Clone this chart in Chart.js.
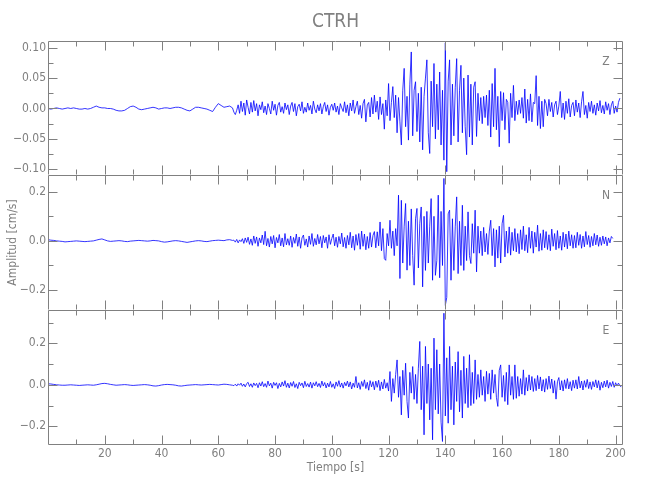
<!DOCTYPE html>
<html>
<head>
<meta charset="utf-8">
<title>CTRH</title>
<script src="https://cdn.jsdelivr.net/npm/chart.js@4.4.1/dist/chart.umd.min.js"></script>
<style>
  body { margin: 0; background: #fff; }
  #wrap { position: relative; width: 650px; height: 500px; }
  canvas { position: absolute; left: 0; }
</style>
</head>
<body>
<div id="wrap">
  <canvas id="chartZ" width="650" height="175" style="top:0"></canvas>
  <canvas id="chartN" width="650" height="135" style="top:175px"></canvas>
  <canvas id="chartE" width="650" height="190" style="top:310px"></canvas>
</div>
<script>
// sample times: 1 s steps up to 65 s, then 0.5 s steps
const time = [];
for (let t = 0; t <= 65; t += 1) time.push(t);
for (let t = 65.5; t <= 202; t += 0.5) time.push(t);

// amplitudes in 10^-3 cm/s
const ampZ = [
  0,-1,0,1,0,-1,0,1,0,1, 0,-1,-1,0,-1,0,2,4,2,1, 1,0,0,-1,-3,-4,-4,-3,0,3,
  4,2,-1,-2,-1,0,1,2,1,-1, 0,1,1,0,1,2,2,1,-1,-3, -4,-1,2,2,1,0,-1,-3,-5,2,
  8,5,2,3,4,1,
  -6,-10,-3,6,-8,12,-5,9,-11,14, 2,-9,10,-6,13,-4,8,-12,6,-2,
  11,-7,4,-10,8,0,-9,12,-3,7, -11,5,10,-6,3,-8,9,-2,6,-10,
  4,10,-5,8,-12,3,7,-4,11,-8, 2,-6,9,-3,5,-9,12,-1,-7,6,
  -4,8,-9,3,10,-5,6,-11,2,7, -3,9,-6,4,-10,8,1,-5,11,-7,
  6,-12,9,-4,14,-8,3,12,-10,5, -16,8,15,-22,6,10,-14,18,-9,22,
  -6,12,-18,19,-10,8,-34,14,-12,41, -20,10,36,-15,22,-40,18,-22,-60,30,
  66,-30,20,-52,40,93,-45,30,44,-38, 25,-55,35,-68,20,50,80,-40,-74,45,
  -30,74,-50,40,-35,60,-60,30,-85,108, -104,45,80,-60,40,-45,35,82,-55,30,
  71,-40,50,-30,-76,55,-47,40,-60,35, 44,-46,25,-20,18,-25,20,-15,22,-28,
  30,-47,41,-30,66,-35,20,-63,28,-20, 26,-35,15,10,-57,25,-15,38,-20,12,
  -10,14,-8,18,-16,32,-24,15,-20,24, -22,10,8,54,-28,20,-33,12,-30,15,
  8,-12,15,-5,10,-14,6,12,-10,4, 28,-15,9,-18,12,-8,16,-14,5,10,
  -12,14,-6,9,-15,11,28,-10,5,-16, 10,-5,12,-8,6,-11,9,-4,13,-7,
  5,-9,11,-3,8,-10,6,12,-8,4,-6,10,17
];
const ampN = [
  5,3,2,0,-1,-2,-4,-3,-2,-1, 0,-1,-2,-3,-2,-1,0,3,6,8, 4,0,-2,-1,0,1,0,-2,-3,-1,
  0,1,2,1,0,-1,0,2,1,0, -3,-5,-4,-2,0,1,0,-2,-4,-6, -4,-2,0,1,0,-2,-3,-1,1,2,
  3,2,1,4,5,2,
  3,-5,6,-8,4,-3,9,-10,12,-6, 15,-14,8,-18,20,-10,16,-22,12,-8,
  24,-15,39,-20,10,-25,18,-12,22,-28, 14,-8,26,-20,12,-24,30,-16,9,-18,
  20,-26,14,-10,28,-22,16,-30,12,24, -18,8,-25,20,-14,30,-22,10,-16,26,
  -12,18,-28,22,-8,16,-30,25,-14,10, 28,-20,15,-26,18,-12,32,-24,14,-30,
  22,-16,35,-28,20,-38,26,-18,30,-34, 40,-22,28,-36,18,-30,34,-25,22,38,
  -28,37,-20,77,-40,50,-72,-79,30,-20, 84,-30,40,-60,50,-20,186,-153,165,-90,
  60,152,-119,80,-100,130,-60,-180,90,132, -110,70,138,-187,100,-120,120,-90,60,172,
  -160,100,-140,-80,186,-150,120,-100,254,-262, -230,110,125,-160,90,-120,60,179,-133,80,
  -100,145,-120,60,-80,118,-60,-92,70,-50, 125,-126,60,-50,40,-60,55,-45,30,-55,
  40,84,-60,50,-106,45,-70,60,-90,70, 104,-65,40,-50,57,-58,35,-40,50,-45,
  30,-52,45,-35,60,-40,25,-48,55,-30, 40,-50,35,-25,64,-42,30,-38,45,-28,
  38,-35,25,-40,48,-22,30,-36,42,-30, 20,-38,35,-25,28,-32,40,-20,25,-30,
  22,-28,35,-18,26,-30,20,-24,38,-15, 22,-26,18,-20,30,-16,24,-22,15,-18,
  20,-12,16,-20,12,-8,18,10
];
const ampE = [
  5,4,2,0,-1,-2,-2,-1,0,-1, -2,-3,-2,-1,0,-1,-2,0,3,6, 7,5,2,0,-2,-1,0,1,0,-2,
  -3,-2,-1,0,1,0,-2,-5,-6,-4, -1,1,2,1,0,-2,-5,-6,-4,-2, -1,0,1,0,-1,0,1,2,1,0,
  -1,1,3,2,0,-2,
  -4,3,-6,5,-2,8,-7,4,-10,6, 12,-8,5,-12,9,-4,7,-14,10,-6,
  15,-9,6,-12,18,-5,8,-16,12,-3, 10,-18,7,-10,14,-6,20,-12,8,-15,
  11,-7,16,-13,5,-18,12,-4,9,-14, 17,-8,6,-11,13,-16,10,-5,15,-9,
  7,-13,18,-6,11,-15,8,-10,16,-12, 5,-18,14,-7,20,-11,9,-16,12,-5,
  18,-10,14,-20,8,-12,40,-15,10,-22, 16,-8,24,-18,12,-26,20,-10,15,-24,
  18,-12,22,-28,14,-20,26,-16,10,-30, 64,-80,30,-40,50,120,-60,40,-145,70,
  -50,104,-80,-160,60,-40,88,-70,50,-90, 80,209,-120,90,-241,185,-90,100,-169,80,
  -265,225,-120,169,-140,100,-180,-273,345,-150, 130,-185,185,-120,90,-193,110,-80,160,-130,
  70,-160,137,-90,80,-110,145,-100,60,-90, 120,-70,50,-60,72,-50,40,-80,65,-45,
  55,-70,72,-40,50,-60,-104,70,96,-60, 45,-80,60,-96,96,-50,40,-70,96,-65,
  40,-55,30,-45,72,-50,35,-30,48,-25, 40,-32,30,-28,45,-20,38,-30,25,-35,
  30,-22,42,-18,28,-40,20,-69,15,35, -25,20,-30,24,-18,30,-20,15,-28,22,
  -16,24,-20,40,-15,18,-25,20,-12,26, -18,14,-22,16,-10,24,-15,20,-26,12,
  -14,18,-10,22,-16,12,-8,16,-12,10,-6,8,-4,-11
];
const UNIT = 1000;

const FONT = "'Liberation Sans Narrow', 'DejaVu Sans Condensed', 'Arial Narrow', sans-serif";
const GREY = '#808080';
const TRACE = '#0000ff';
const X_MAX = 202.6;
const X_MINOR = 10;
const MAJOR_LEN = 9;
const MINOR_LEN = 5;

Chart.defaults.font.family = FONT;
Chart.defaults.font.size = 12;
Chart.defaults.color = GREY;

// frame with inward ticks on all four sides, plus component letter
const panelFrame = {
  id: 'panelFrame',
  afterDatasetsDraw(chart, args, o) {
    const { ctx, chartArea: a } = chart;
    const xs = chart.scales.x, ys = chart.scales.y;
    const L = Math.round(a.left) + 0.5, R = Math.round(a.right) - 0.5;
    const T = Math.round(a.top) + 0.5, B = Math.round(a.bottom) - 0.5;
    ctx.save();
    ctx.strokeStyle = GREY;
    ctx.lineWidth = 1;
    ctx.beginPath();
    ctx.moveTo(L, B); ctx.lineTo(L, T); ctx.lineTo(R, T); ctx.lineTo(R, B);
    if (o.drawBottom) ctx.lineTo(L, B);
    for (let k = 1; k * X_MINOR < xs.max; k++) {
      const px = Math.round(xs.getPixelForValue(k * X_MINOR)) + 0.5;
      const len = k % 2 === 0 ? MAJOR_LEN : MINOR_LEN;
      ctx.moveTo(px, T); ctx.lineTo(px, T + len);
      ctx.moveTo(px, B); ctx.lineTo(px, B - len);
    }
    const ratio = Math.round(o.yMajor / o.yMinor);
    for (let k = Math.ceil(ys.min / o.yMinor); k * o.yMinor <= ys.max; k++) {
      const py = Math.round(ys.getPixelForValue(k * o.yMinor)) + 0.5;
      const len = k % ratio === 0 ? MAJOR_LEN : MINOR_LEN;
      ctx.moveTo(L, py); ctx.lineTo(L + len, py);
      ctx.moveTo(R, py); ctx.lineTo(R - len, py);
    }
    ctx.stroke();
    ctx.fillStyle = GREY;
    ctx.textAlign = 'center';
    ctx.textBaseline = 'middle';
    ctx.font = '12px ' + FONT;
    ctx.fillText(o.label, a.right - 17, a.top + 21);
    if (o.title) {
      ctx.font = '19px ' + FONT;
      ctx.fillText(o.title, (a.left + a.right) / 2, 22);
    }
    ctx.restore();
  }
};

function fmt(v, digits) {
  if (Math.abs(v) < 1e-9) v = 0;
  return v.toFixed(digits).replace('-', '\u2212');
}

function makePanel(id, values, p) {
  const points = values.map((v, i) => ({ x: time[i], y: v / UNIT }));
  return new Chart(document.getElementById(id), {
    type: 'line',
    data: {
      datasets: [{
        data: points,
        borderColor: TRACE,
        borderWidth: 0.8,
        pointRadius: 0,
        tension: 0,
        fill: false
      }]
    },
    options: {
      responsive: false,
      animation: false,
      events: [],
      layout: { padding: { top: p.padTop, right: 27, left: 0, bottom: 0 } },
      plugins: {
        legend: { display: false },
        tooltip: { enabled: false },
        panelFrame: { label: p.label, yMinor: p.yMinor, yMajor: p.yMajor, drawBottom: p.showX, title: p.title }
      },
      scales: {
        x: {
          type: 'linear',
          min: 0,
          max: X_MAX,
          display: p.showX,
          afterFit: s => {
            s.height = p.showX ? 55 : 0;
            s.paddingLeft = 0;
            s.paddingRight = 0;
          },
          grid: { display: false, drawTicks: false },
          border: { display: false },
          ticks: {
            stepSize: 20,
            includeBounds: false,
            autoSkip: false,
            maxRotation: 0,
            padding: 2,
            callback: v => (v === 0 ? '' : String(v))
          },
          title: { display: true, text: 'Tiempo [s]', padding: { top: 0, bottom: 25 } }
        },
        y: {
          min: p.yMin,
          max: p.yMax,
          afterFit: s => {
            s.width = 48;
            s.paddingTop = 0;
            s.paddingBottom = 0;
          },
          grid: { display: false, drawTicks: false },
          border: { display: false },
          ticks: {
            stepSize: p.yMajor,
            includeBounds: false,
            padding: 2,
            callback: v => fmt(v, p.digits)
          },
          title: { display: !!p.yTitle, text: p.yTitle, padding: { top: 6, bottom: 0 } }
        }
      }
    },
    plugins: [panelFrame]
  });
}

makePanel('chartZ', ampZ, {
  label: 'Z', title: 'CTRH', padTop: 41, showX: false,
  yMin: -0.1094, yMax: 0.111, yMajor: 0.05, yMinor: 0.025, digits: 2
});
makePanel('chartN', ampN, {
  label: 'N', padTop: 0, showX: false, yTitle: 'Amplitud [cm/s]',
  yMin: -0.281, yMax: 0.268, yMajor: 0.2, yMinor: 0.1, digits: 1
});
makePanel('chartE', ampE, {
  label: 'E', padTop: 0, showX: true,
  yMin: -0.29, yMax: 0.3605, yMajor: 0.2, yMinor: 0.1, digits: 1
});
</script>
</body>
</html>
